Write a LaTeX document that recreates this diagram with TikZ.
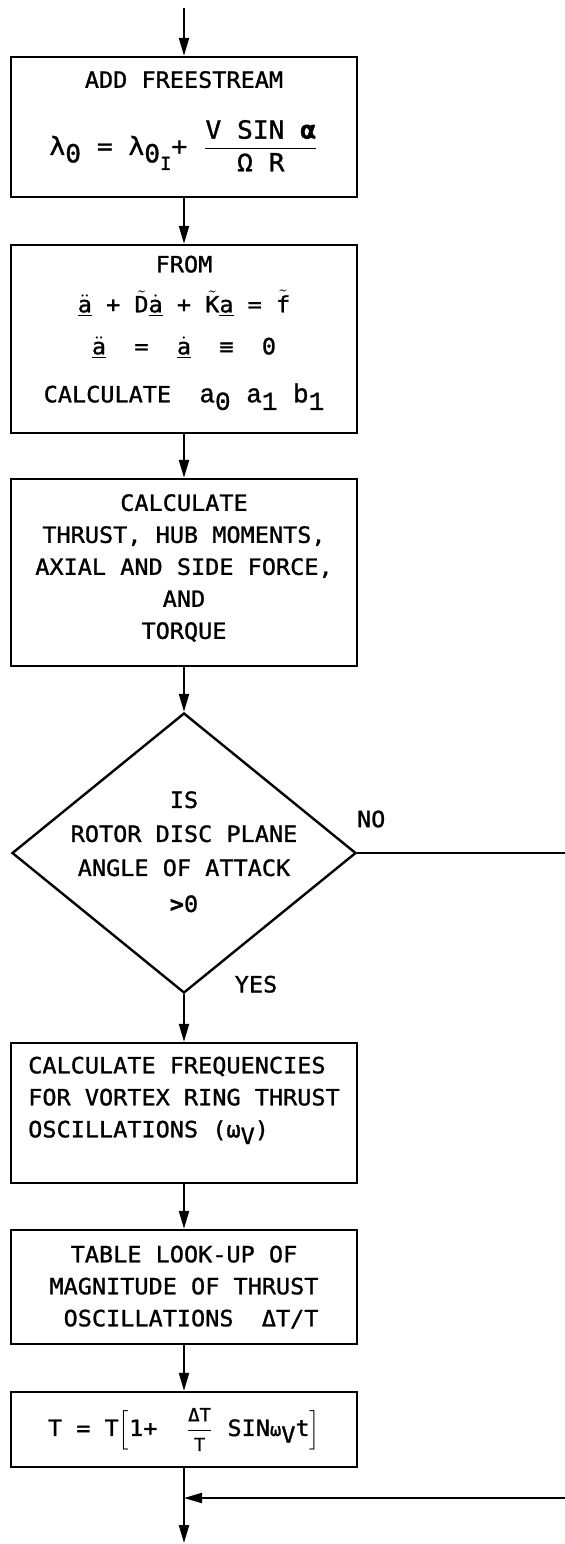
\documentclass[tikz,border=0pt]{standalone}
\usepackage{fontspec}
\usepackage{amsmath}
\usetikzlibrary{shapes.geometric, arrows.meta, positioning}
\newfontfamily\flowfam{DejaVu Sans Mono}[FakeStretch=1.05, FakeBold=1.2]
\newfontfamily\courfam{Liberation Mono}[FakeBold=1.2]
\newcommand{\boxfont}{\flowfam\fontsize{11.2pt}{16pt}\selectfont}
\newcommand{\dn}[1]{\raisebox{-0.55ex}{#1}}
\newcommand{\ua}{\underline{\text{a}}}

\begin{document}
\begin{tikzpicture}[x=0.5pt, y=-0.5pt]
    \tikzset{
        flow/.style={line width=1.1pt, -{Triangle[length=9pt, width=5pt]}},
        procbox/.style={draw, line width=1.2pt, minimum width=173pt, inner sep=0pt, font=\boxfont, align=center},
        decision/.style={draw, diamond, line width=1.2pt, minimum width=172pt, minimum height=140pt, inner sep=0pt, font=\boxfont},
        edgelabel/.style={font=\boxfont, inner sep=0pt},
    }
    \useasboundingbox (0,0) rectangle (564,1544);

    % boxes
    \node[procbox, minimum height=70pt] (add) at (184,127)
        {ADD FREESTREAM\\[15pt]
         {\fontsize{12.5pt}{16pt}\selectfont λ\dn{0} = λ\dn{0\dn{\small I}}+ $\dfrac{\text{V SIN \textbf{α}}}{\text{Ω R}}$}\\[-2pt] {}};
    \node[procbox, minimum height=94pt] (from) at (184,339)
        {FROM\\[4pt]
         $\ddot{\ua}$ + $\tilde{\text{D}}\dot{\ua}$ + $\tilde{\text{K}}\ua$ = $\tilde{\text{f}}$\\[5pt]
         $\ddot{\ua}$ \ = \ $\dot{\ua}$ \ ≡ \ 0\\[8pt]
         CALCULATE \ {\courfam\fontsize{13pt}{16pt}\selectfont a\dn{0} a\dn{1} b\dn{1}}\\[-6pt] {}};
    \node[procbox, minimum height=93.5pt] (thrust) at (184,572.5)
        {CALCULATE\\THRUST, HUB MOMENTS,\\AXIAL AND SIDE FORCE,\\AND\\TORQUE\\[-10pt] {}};
    \node[decision] (check) at (184,853)
        {\smash{\raisebox{-3pt}{\begin{tabular}{@{}c@{}}IS\\[1pt]ROTOR DISC PLANE\\[1pt]ANGLE OF ATTACK\\[2pt]\textbf{>}0\end{tabular}}}};
    \node[procbox, minimum height=70pt, align=left] (freq) at (184,1113)
        {CALCULATE FREQUENCIES\\FOR VORTEX RING THRUST\\OSCILLATIONS (ω\dn{V})\\ {}};
    \node[procbox, minimum height=57pt] (table) at (184,1287)
        {TABLE LOOK-UP OF\\MAGNITUDE OF THRUST\\ \ OSCILLATIONS \ ΔT/T};
    \node[procbox, minimum height=37.5pt] (tform) at (184,1429.5)
        {T = T$\Bigl[$1+ \ $\dfrac{\text{\small ΔT}}{\text{\small T}}$ SIN{\small ω}\dn{V}t$\Bigr]$};

    \coordinate (in) at (184,8);
    \coordinate (join) at (184,1498);
    \coordinate (out) at (184,1543);

    % connectors
    \draw[flow] (in) -- (add);
    \draw[flow] (add) -- (from);
    \draw[flow] (from) -- (thrust);
    \draw[flow] (thrust) -- (check);
    \draw[flow] (check.south) -- node[edgelabel, at start, xshift=36pt, yshift=5pt] (yes) {YES} (freq);
    \draw[flow] (freq) -- (table);
    \draw[flow] (table) -- (tform);
    \draw[flow] (tform) -- (out);
    \draw[flow] (check.east) -- node[edgelabel, at start, xshift=7pt, yshift=17pt] (no) {NO} (580,853) -- (580,1498) -- (join);
\end{tikzpicture}
\end{document}
